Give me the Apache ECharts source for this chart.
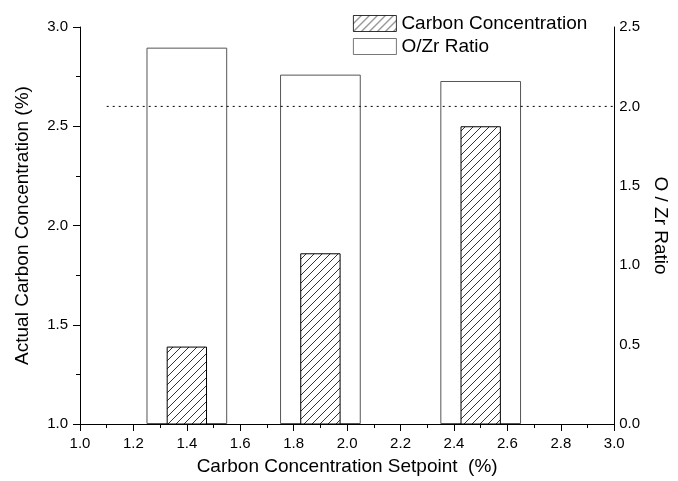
<!DOCTYPE html>
<html>
<head>
<meta charset="utf-8">
<script src="https://cdn.jsdelivr.net/npm/echarts@6/dist/echarts.min.js"></script>
<style>
  html, body { margin: 0; padding: 0; background: #fff; }
  #chart { width: 678px; height: 481px; }
</style>
</head>
<body>
<div id="chart"></div>
<script>
// Setpoints (%) and measured results
const setpoints = [1.4, 1.9, 2.5];
const carbonActual = [1.39, 1.86, 2.50];   // actual carbon concentration (%)
const ozrRatio = [2.37, 2.20, 2.16];        // O/Zr ratio
const ozrReference = 2.0;                   // stoichiometric O/Zr reference line
const referenceStart = 1.1;

// Axis ranges
const xRange = { min: 1.0, max: 3.0, interval: 0.2 };
const carbonRange = { min: 1.0, max: 3.0, interval: 0.5 };
const ratioRange = { min: 0.0, max: 2.5, interval: 0.5 };

// Bar widths in setpoint units
const ratioBarSpan = 0.3;
const carbonBarSpan = 0.15;

const FONT = "'Liberation Sans', Arial, Helvetica, sans-serif";
const grid = { left: 80, right: 60, top: 27, bottom: 57 };
const plotWidth = 678 - grid.left - grid.right;
const pxPerUnit = plotWidth / (xRange.max - xRange.min);

// Diagonal hatch tile for the carbon bars
function hatchTile() {
  const s = 8;
  const c = document.createElement('canvas');
  c.width = s; c.height = s;
  const g = c.getContext('2d');
  g.fillStyle = '#fff';
  g.fillRect(0, 0, s, s);
  g.strokeStyle = '#000';
  g.lineWidth = 0.8;
  g.beginPath();
  g.moveTo(-1, s + 1); g.lineTo(s + 1, -1);
  g.moveTo(-1, 1); g.lineTo(1, -1);
  g.moveTo(s - 1, s + 1); g.lineTo(s + 1, s - 1);
  g.stroke();
  return c;
}

const fmt1 = v => v.toFixed(1);
const tickLabel = { color: '#000', fontFamily: FONT, fontSize: 15, formatter: fmt1 };

const chart = echarts.init(document.getElementById('chart'), null, { renderer: 'canvas' });

chart.setOption({
  animation: false,
  backgroundColor: '#fff',
  textStyle: { fontFamily: FONT },
  grid: grid,
  legend: {
    data: ['Carbon Concentration', 'O/Zr Ratio'],
    orient: 'vertical',
    left: 348,
    top: 9,
    itemWidth: 43,
    itemHeight: 16,
    itemGap: 4,
    icon: 'rect',
    selectedMode: false,
    itemStyle: { borderWidth: 0.8 },
    textStyle: { color: '#000', fontFamily: FONT, fontSize: 19 }
  },
  xAxis: [
    {
      type: 'value',
      min: xRange.min, max: xRange.max, interval: xRange.interval,
      name: 'Carbon Concentration Setpoint  (%)',
      nameLocation: 'middle',
      nameGap: 33,
      nameTextStyle: { color: '#000', fontFamily: FONT, fontSize: 19 },
      axisLine: { show: true, onZero: false, lineStyle: { color: '#000', width: 1 } },
      axisTick: { show: true, length: 7, lineStyle: { color: '#000' } },
      minorTick: { show: true, splitNumber: 2, length: 4, lineStyle: { color: '#000' } },
      axisLabel: Object.assign({ margin: 12 }, tickLabel),
      splitLine: { show: false }
    },
    {
      type: 'value',
      min: xRange.min, max: xRange.max,
      show: false
    }
  ],
  yAxis: [
    {
      type: 'value',
      position: 'left',
      min: carbonRange.min, max: carbonRange.max, interval: carbonRange.interval,
      name: 'Actual Carbon Concentration (%)',
      nameLocation: 'middle',
      nameGap: 48,
      nameTextStyle: { color: '#000', fontFamily: FONT, fontSize: 19 },
      axisLine: { show: true, onZero: false, lineStyle: { color: '#000', width: 1 } },
      axisTick: { show: true, length: 7, lineStyle: { color: '#000' } },
      minorTick: { show: true, splitNumber: 2, length: 4, lineStyle: { color: '#000' } },
      axisLabel: Object.assign({ margin: 12 }, tickLabel),
      splitLine: { show: false }
    },
    {
      type: 'value',
      position: 'right',
      min: ratioRange.min, max: ratioRange.max, interval: ratioRange.interval,
      name: 'O / Zr Ratio',
      nameLocation: 'middle',
      nameRotate: -90,
      nameGap: 36,
      nameTextStyle: { color: '#000', fontFamily: FONT, fontSize: 19 },
      axisLine: { show: true, onZero: false, lineStyle: { color: '#000', width: 1 } },
      axisTick: { show: false },
      axisLabel: Object.assign({ margin: 5 }, tickLabel),
      splitLine: { show: false }
    }
  ],
  series: [
    {
      name: 'O/Zr Ratio',
      type: 'bar',
      xAxisIndex: 1,
      yAxisIndex: 1,
      barWidth: ratioBarSpan * pxPerUnit,
      itemStyle: { color: '#fff', borderColor: '#555', borderWidth: 1 },
      data: setpoints.map((x, i) => [x, ozrRatio[i]]),
      z: 2
    },
    {
      name: 'Carbon Concentration',
      type: 'bar',
      xAxisIndex: 0,
      yAxisIndex: 0,
      barWidth: carbonBarSpan * pxPerUnit,
      itemStyle: {
        color: { image: hatchTile(), repeat: 'repeat' },
        borderColor: '#000',
        borderWidth: 1
      },
      data: setpoints.map((x, i) => [x, carbonActual[i]]),
      z: 3
    },
    {
      name: 'O/Zr reference',
      type: 'line',
      xAxisIndex: 0,
      yAxisIndex: 1,
      symbol: 'none',
      silent: true,
      lineStyle: { color: '#000', width: 1, type: [2, 4] },
      data: [[referenceStart, ozrReference], [xRange.max, ozrReference]],
      z: 4
    }
  ]
});
</script>
</body>
</html>
